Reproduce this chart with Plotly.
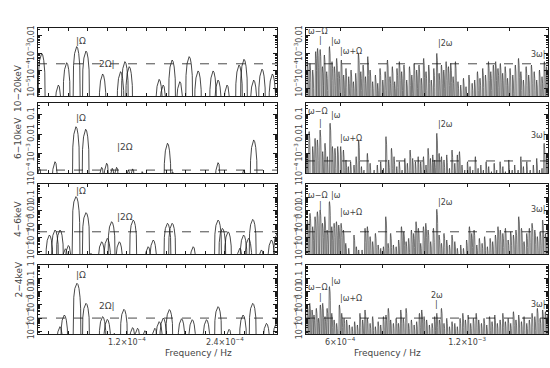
import numpy as np
import plotly.graph_objects as go
from plotly.subplots import make_subplots

# ---- data: (frequency, log10 power) of each peak ----
# left column: frequency in units of 1e-5 Hz
L1 = [(1.55, -3.02), (3.59, -4.79), (4.61, -3.54), (5.84, -2.64), (6.98, -2.89), (9.02, -4.17),
      (11.22, -4.04), (11.75, -3.48), (12.28, -3.76), (15.95, -4.47), (16.44, -4.79), (17.54, -3.39),
      (18.48, -4.60), (19.63, -3.20), (20.72, -4.00), (22.56, -4.00), (23.17, -4.51), (24.27, -4.79),
      (25.74, -3.67), (26.35, -3.35), (27.54, -4.51), (28.56, -3.90), (29.83, -4.17)]
L2 = [(1.26, -3.76), (3.18, -3.42), (5.75, -1.62), (6.94, -1.75), (8.90, -3.71), (9.51, -3.50),
      (10.20, -3.76), (10.73, -3.71), (12.16, -3.85), (12.69, -3.79), (13.87, -3.93), (16.97, -2.47),
      (17.58, -3.93), (23.17, -3.47), (26.30, -3.85), (27.54, -2.30)]
L3 = [(2.49, -3.79), (3.18, -3.42), (3.79, -3.42), (4.45, -4.81), (4.82, -4.57), (5.75, -0.94),
      (6.98, -2.13), (7.59, -5.15), (8.90, -4.29), (9.59, -4.04), (10.12, -2.80), (11.06, -4.29),
      (12.77, -2.68), (14.60, -4.66), (15.22, -4.16), (16.97, -2.92), (17.54, -2.92), (20.12, -4.66),
      (23.17, -2.68), (23.70, -3.30), (24.40, -3.55), (25.83, -4.78), (26.30, -3.79), (26.90, -4.04),
      (27.42, -2.63), (28.48, -4.90), (29.70, -4.16), (30.40, -3.67)]
L4 = [(3.79, -4.65), (4.32, -3.77), (5.87, -1.38), (6.98, -2.89), (9.02, -3.89), (9.59, -4.10),
      (10.45, -5.15), (11.63, -3.34), (12.69, -4.72), (13.30, -4.77), (14.20, -4.95), (15.42, -4.77),
      (15.95, -4.27), (16.45, -4.00), (17.20, -3.36), (18.69, -4.05), (20.00, -4.12), (21.75, -4.12),
      (23.17, -3.14), (24.52, -4.85), (26.23, -3.77), (27.42, -2.89), (29.10, -4.40), (30.30, -4.40)]

# right column: frequency in units of 1e-4 Hz
R1 = [(4.46, -3.48), (4.58, -3.58), (4.71, -3.95), (4.85, -2.92), (4.94, -2.74), (5.06, -2.80),
      (5.17, -3.76), (5.26, -3.11), (5.37, -4.04), (5.50, -2.64), (5.62, -3.48), (5.73, -3.76),
      (5.84, -3.30), (5.95, -4.04), (6.06, -3.39), (6.17, -4.23), (6.28, -3.86), (6.41, -4.32),
      (6.52, -3.95), (6.63, -4.60), (6.74, -4.13), (6.87, -3.02), (6.98, -4.04), (7.09, -3.67),
      (7.20, -4.32), (7.31, -3.20), (7.42, -3.95), (7.54, -4.60), (7.67, -4.23), (7.78, -4.69),
      (7.89, -3.86), (8.02, -4.51), (8.13, -4.04), (8.24, -3.39), (8.36, -4.32), (8.47, -3.76),
      (8.58, -4.60), (8.69, -3.86), (8.80, -3.48), (8.91, -4.04), (9.02, -3.67), (9.15, -4.51),
      (9.28, -3.76), (9.39, -4.23), (9.50, -3.58), (9.62, -3.95), (9.73, -3.67), (9.84, -4.41),
      (9.95, -3.30), (10.06, -4.04), (10.19, -3.67), (10.31, -4.51), (10.43, -3.86), (10.57, -3.02),
      (10.68, -4.13), (10.79, -3.67), (10.90, -3.95), (11.01, -3.48), (11.12, -3.76), (11.23, -3.58),
      (11.34, -4.32), (11.45, -3.48), (11.57, -4.60), (11.70, -4.79), (11.83, -4.41), (11.95, -4.88),
      (12.09, -4.23), (12.24, -4.69), (12.36, -4.51), (12.49, -4.04), (12.61, -4.41), (12.74, -3.86),
      (12.87, -4.23), (13.01, -3.48), (13.12, -4.04), (13.24, -3.67), (13.35, -3.48), (13.46, -3.86),
      (13.57, -3.58), (13.68, -4.13), (13.80, -3.76), (13.91, -4.41), (14.03, -3.86), (14.16, -4.23),
      (14.28, -3.67), (14.43, -3.30), (14.54, -4.04), (14.66, -4.51), (14.79, -3.76), (14.91, -4.23),
      (15.04, -3.67), (15.17, -4.04), (15.29, -4.51), (15.42, -3.95), (15.54, -4.32), (15.65, -3.48),
      (15.76, -3.76)]
R2 = [(4.43, -2.99), (4.54, -1.87), (4.71, -2.64), (4.82, -2.22), (4.93, -2.30), (5.06, -1.79),
      (5.18, -2.90), (5.29, -2.47), (5.40, -3.16), (5.53, -1.44), (5.64, -2.64), (5.76, -2.73),
      (5.89, -2.64), (6.03, -2.64), (6.16, -2.82), (6.28, -3.33), (6.39, -3.67), (6.50, -3.42),
      (6.66, -3.59), (6.76, -3.16), (6.88, -2.30), (7.01, -3.67), (7.13, -3.85), (7.29, -2.99),
      (7.42, -3.50), (7.61, -3.85), (7.76, -3.59), (7.92, -3.42), (8.05, -3.76), (8.17, -2.13),
      (8.30, -3.33), (8.43, -2.73), (8.55, -3.16), (8.68, -3.67), (8.80, -3.42), (8.93, -3.85),
      (9.06, -3.25), (9.18, -3.50), (9.31, -2.82), (9.43, -3.25), (9.56, -3.42), (9.69, -3.16),
      (9.81, -3.42), (9.94, -3.16), (10.06, -3.59), (10.16, -2.73), (10.27, -3.25), (10.38, -3.07),
      (10.47, -3.33), (10.57, -1.96), (10.68, -2.99), (10.79, -3.16), (10.91, -3.33), (11.04, -3.07),
      (11.17, -3.76), (11.29, -2.82), (11.42, -3.50), (11.54, -3.07), (11.64, -2.90), (11.76, -3.59),
      (11.89, -3.85), (12.02, -3.42), (12.14, -3.67), (12.27, -3.85), (12.39, -3.16), (12.52, -3.76),
      (12.65, -3.59), (12.77, -3.85), (12.90, -3.42), (13.02, -3.67), (13.15, -3.93), (13.28, -3.50),
      (13.40, -3.85), (13.56, -3.42), (13.69, -3.67), (13.81, -3.93), (13.97, -3.33), (14.13, -3.85),
      (14.25, -3.59), (14.41, -3.85), (14.54, -3.16), (14.66, -3.67), (14.82, -3.42), (14.98, -3.85),
      (15.13, -3.59), (15.29, -3.25), (15.42, -3.85), (15.54, -3.76), (15.64, -2.47), (15.76, -3.07)]
R3 = [(4.46, -2.68), (4.58, -2.18), (4.71, -3.17), (4.82, -2.43), (4.93, -2.06), (5.06, -1.93),
      (5.17, -2.92), (5.28, -2.43), (5.39, -3.42), (5.50, -1.31), (5.61, -3.17), (5.72, -2.92),
      (5.83, -2.80), (5.94, -3.05), (6.05, -2.92), (6.16, -3.42), (6.27, -4.41), (6.41, -4.78),
      (6.66, -3.79), (6.77, -4.66), (6.88, -4.90), (7.04, -4.90), (7.18, -3.29), (7.29, -3.17),
      (7.42, -3.91), (7.54, -4.28), (7.67, -3.67), (7.80, -4.53), (7.92, -4.78), (8.05, -4.66),
      (8.16, -2.43), (8.27, -4.41), (8.39, -3.67), (8.52, -4.53), (8.65, -4.66), (8.77, -4.16),
      (8.90, -3.17), (9.01, -3.54), (9.12, -4.28), (9.24, -4.04), (9.37, -3.42), (9.48, -3.67),
      (9.59, -2.80), (9.70, -3.29), (9.81, -4.41), (9.94, -3.17), (10.05, -2.92), (10.16, -3.42),
      (10.28, -4.28), (10.41, -3.29), (10.57, -1.88), (10.68, -3.79), (10.79, -4.41), (10.91, -3.67),
      (11.04, -4.16), (11.17, -4.53), (11.29, -3.79), (11.42, -4.28), (11.54, -4.78), (11.70, -4.53),
      (11.83, -4.78), (11.98, -4.16), (12.11, -3.17), (12.22, -3.67), (12.33, -3.42), (12.46, -4.53),
      (12.58, -4.04), (12.71, -4.41), (12.83, -3.91), (12.96, -4.66), (13.09, -4.04), (13.21, -4.28),
      (13.34, -3.79), (13.46, -3.17), (13.57, -3.42), (13.69, -3.67), (13.81, -3.29), (13.94, -4.16),
      (14.06, -3.54), (14.19, -3.79), (14.31, -3.42), (14.44, -2.43), (14.57, -3.29), (14.69, -4.28),
      (14.82, -3.67), (14.94, -3.29), (15.07, -2.92), (15.20, -3.42), (15.32, -3.91), (15.45, -3.54),
      (15.57, -2.68), (15.70, -3.67), (15.81, -3.05)]
R4 = [(4.46, -3.01), (4.57, -2.89), (4.68, -3.39), (4.77, -3.77), (4.88, -3.27), (4.98, -4.02),
      (5.07, -3.01), (5.18, -2.89), (5.29, -3.89), (5.39, -3.27), (5.50, -1.63), (5.61, -3.64),
      (5.72, -4.14), (5.84, -4.40), (5.97, -3.01), (6.08, -3.64), (6.19, -4.02), (6.31, -4.14),
      (6.44, -4.52), (6.57, -4.65), (6.69, -4.27), (6.82, -4.52), (6.94, -3.64), (7.07, -4.14),
      (7.18, -3.39), (7.29, -4.02), (7.42, -4.40), (7.54, -3.89), (7.67, -4.65), (7.80, -4.27),
      (7.92, -4.52), (8.05, -3.89), (8.17, -3.77), (8.28, -3.27), (8.39, -4.14), (8.52, -4.40),
      (8.65, -4.02), (8.76, -4.40), (8.87, -3.39), (8.99, -4.02), (9.12, -3.27), (9.24, -4.40),
      (9.37, -4.14), (9.50, -4.52), (9.62, -4.27), (9.75, -3.64), (9.86, -3.39), (9.97, -3.89),
      (10.09, -4.14), (10.22, -4.52), (10.35, -4.40), (10.47, -3.89), (10.57, -3.64), (10.69, -4.14),
      (10.79, -3.27), (10.91, -4.40), (11.04, -4.02), (11.17, -4.65), (11.29, -4.27), (11.42, -4.40),
      (11.54, -4.65), (11.67, -4.02), (11.80, -3.64), (11.92, -4.14), (12.05, -3.77), (12.17, -4.40),
      (12.30, -4.02), (12.43, -3.64), (12.55, -4.14), (12.68, -4.40), (12.80, -4.02), (12.93, -4.52),
      (13.06, -3.89), (13.18, -4.27), (13.31, -3.77), (13.43, -4.40), (13.56, -4.14), (13.69, -3.64),
      (13.81, -4.27), (13.94, -4.02), (14.06, -4.40), (14.19, -3.52), (14.31, -4.14), (14.44, -3.77),
      (14.57, -4.27), (14.69, -3.89), (14.82, -4.40), (14.94, -4.14), (15.07, -3.64), (15.20, -3.89),
      (15.32, -3.27), (15.45, -4.02), (15.57, -3.39), (15.70, -3.52), (15.81, -3.77)]

BANDS = ["10−20keV", "6−10keV", "4−6keV", "2−4keV"]
LEFT = [L1, L2, L3, L4]
RIGHT = [R1, R2, R3, R4]
# dashed significance level, log10 power, per row
SIG_LEFT = [-3.6, -3.85, -3.55, -4.0]
SIG_RIGHT = [-3.6, -3.38, -3.55, -4.0]

# y ranges (log10) and decade ticks per row
Y_RANGE = [(-5.4, -1.6), (-4.0, -0.4), (-5.2, 0.0), (-5.2, 0.0)]
DECADE_TEXT = {-5: "10<sup>−5</sup>", -4: "10<sup>−4</sup>", -3: "10<sup>−3</sup>",
               -2: "0.01", -1: "0.1", 0: "1"}

# harmonic labels: (row, col, text, freq Hz, log10 y, anchor)
LABELS = [
    (1, 1, "|Ω", 5.55e-5, -2.3, "left"), (1, 1, "2Ω|", 10.8e-5, -3.6, "right"),
    (2, 1, "|Ω", 5.55e-5, -1.17, "left"), (2, 1, "|2Ω", 10.55e-5, -2.66, "left"),
    (3, 1, "|Ω", 5.55e-5, -0.52, "left"), (3, 1, "|2Ω", 10.55e-5, -2.45, "left"),
    (4, 1, "|Ω", 5.55e-5, -0.75, "left"), (4, 1, "2Ω|", 10.8e-5, -3.09, "right"),
    (1, 2, "ω−Ω", 4.40e-4, -1.8, "left"), (1, 2, "|", 5.06e-4, -2.3, "center"),
    (1, 2, "|ω", 5.47e-4, -2.38, "left"), (1, 2, "|ω+Ω", 5.92e-4, -2.94, "left"),
    (1, 2, "|2ω", 10.52e-4, -2.44, "left"), (1, 2, "3ω|", 15.78e-4, -3.1, "right"),
    (2, 2, "ω−Ω", 4.40e-4, -0.86, "left"), (2, 2, "|", 5.06e-4, -1.45, "center"),
    (2, 2, "|ω", 5.47e-4, -1.02, "left"), (2, 2, "|ω+Ω", 5.92e-4, -2.2, "left"),
    (2, 2, "|2ω", 10.52e-4, -1.53, "left"), (2, 2, "3ω|", 15.78e-4, -2.05, "right"),
    (3, 2, "ω−Ω", 4.40e-4, -0.82, "left"), (3, 2, "|", 5.06e-4, -1.62, "center"),
    (3, 2, "|ω", 5.47e-4, -0.82, "left"), (3, 2, "|ω+Ω", 5.92e-4, -2.15, "left"),
    (3, 2, "|2ω", 10.52e-4, -1.34, "left"), (3, 2, "3ω|", 15.78e-4, -1.86, "right"),
    (4, 2, "ω−Ω", 4.40e-4, -1.73, "left"), (4, 2, "|", 5.06e-4, -2.45, "center"),
    (4, 2, "|ω", 5.47e-4, -1.28, "left"), (4, 2, "|ω+Ω", 5.92e-4, -2.49, "left"),
    (4, 2, "2ω", 10.57e-4, -2.3, "center"), (4, 2, "|", 10.57e-4, -3.0, "center"),
    (4, 2, "3ω|", 15.78e-4, -3.0, "right"),
]

# shape of one periodogram lobe (units of half-width, offset in log10 power)
LOBE_U = [-1, -0.9, -0.75, -0.5, -0.25, 0, 0.25, 0.5, 0.75, 0.9, 1]
LOBE_DY = [-6, -1.92, -1.05, -0.39, -0.09, 0, -0.09, -0.39, -1.05, -1.92, -6]
HALF_W = 5.1e-6  # Hz, 1/T resolution

INK = "#1a1a1a"
TXT = "#444444"
FONT = "DejaVu Sans"


def lobes(peaks, unit):
    xs, ys = [], []
    for f, p in peaks:
        for u, dy in zip(LOBE_U, LOBE_DY):
            xs.append(f * unit + u * HALF_W)
            ys.append(10 ** (p + dy))
        xs.append(None)
        ys.append(None)
    return xs, ys


fig = make_subplots(rows=4, cols=2)

col_dom = [(38 / 550, 277 / 550), (306 / 550, 548 / 550)]
row_px = [(28, 96), (103, 173), (184, 254), (265, 334)]
x_range = [(1.1e-5, 3.04e-4), (4.39e-4, 1.582e-3)]
x_ticks = [[2.4e-5 * k for k in range(1, 13)], [6e-4, 8e-4, 1e-3, 1.2e-3, 1.4e-3]]
x_text = [
    {1.2e-4: "1.2×10<sup>−4</sup>", 2.4e-4: "2.4×10<sup>−4</sup>"},
    {6e-4: "6×10<sup>−4</sup>", 1.2e-3: "1.2×10<sup>−3</sup>"},
]

for r in range(4):
    for c in range(2):
        peaks = LEFT[r] if c == 0 else RIGHT[r]
        unit = 1e-5 if c == 0 else 1e-4
        xs, ys = lobes(peaks, unit)
        fig.add_trace(go.Scatter(x=xs, y=ys, mode="lines",
                                 line=dict(color=INK, width=0.8 if c == 0 else 0.6),
                                 showlegend=False, hoverinfo="skip"), row=r + 1, col=c + 1)
        sig = SIG_LEFT[r] if c == 0 else SIG_RIGHT[r]
        fig.add_trace(go.Scatter(x=list(x_range[c]), y=[10 ** sig, 10 ** sig], mode="lines",
                                 line=dict(color=INK, width=0.8, dash="dash"),
                                 showlegend=False, hoverinfo="skip"), row=r + 1, col=c + 1)

        lo, hi = Y_RANGE[r]
        decs = [d for d in range(-5, 1) if lo - 0.01 <= d <= hi + 0.01]
        top, bot = row_px[r]
        fig.update_yaxes(
            type="log", range=[lo, hi], automargin=False,
            domain=[1 - bot / 368, 1 - top / 368],
            tickmode="array", tickvals=[10 ** d for d in decs],
            ticktext=[DECADE_TEXT[d] for d in decs],
            tickangle=-90, ticks="inside", ticklen=4, tickcolor=INK,
            minor=dict(ticks="inside", ticklen=2, tickcolor=INK, dtick="D1", showgrid=False),
            showline=True, linecolor=INK, linewidth=1, mirror="ticks",
            showgrid=False, zeroline=False,
            tickfont=dict(family=FONT, size=8, color=TXT),
            row=r + 1, col=c + 1,
        )
        ticks = x_ticks[c]
        fig.update_xaxes(
            range=list(x_range[c]), domain=list(col_dom[c]), automargin=False,
            tickmode="array", tickvals=ticks,
            ticktext=[x_text[c].get(t, "") if r == 3 else "" for t in ticks],
            ticks="inside", ticklen=3, tickcolor=INK,
            showline=True, linecolor=INK, linewidth=1, mirror="ticks",
            showgrid=False, zeroline=False,
            tickfont=dict(family=FONT, size=8, color=TXT),
            row=r + 1, col=c + 1,
        )

# band names on the left
for r, name in enumerate(BANDS):
    top, bot = row_px[r]
    fig.add_annotation(text=name, xref="paper", yref="paper", x=11 / 550,
                       y=1 - (top + bot) / 2 / 368, textangle=-90, showarrow=False,
                       font=dict(family=FONT, size=9, color=TXT))

# x titles
for xc in (163 / 550, 423 / 550):
    fig.add_annotation(text="Frequency / Hz", xref="paper", yref="paper", x=xc, y=1 - 360 / 368,
                       showarrow=False, font=dict(family=FONT, size=9, color=TXT))

# harmonic markers
for row, col, text, fx, ly, anchor in LABELS:
    idx = (row - 1) * 2 + col
    fig.add_annotation(text=text, xref=f"x{idx}", yref=f"y{idx}", x=fx, y=ly,
                       xanchor=anchor, yanchor="middle", showarrow=False,
                       font=dict(family=FONT, size=8 if col == 2 else 9, color=TXT))

fig.update_layout(
    width=550, height=368,
    margin=dict(l=0, r=0, t=0, b=0),
    paper_bgcolor="white", plot_bgcolor="white",
    showlegend=False,
)

# drop the browser's default body margin so the figure sits at the page origin
fig.write_html("out.html", config={"displayModeBar": False},
               post_script="document.body.style.margin='0';")
